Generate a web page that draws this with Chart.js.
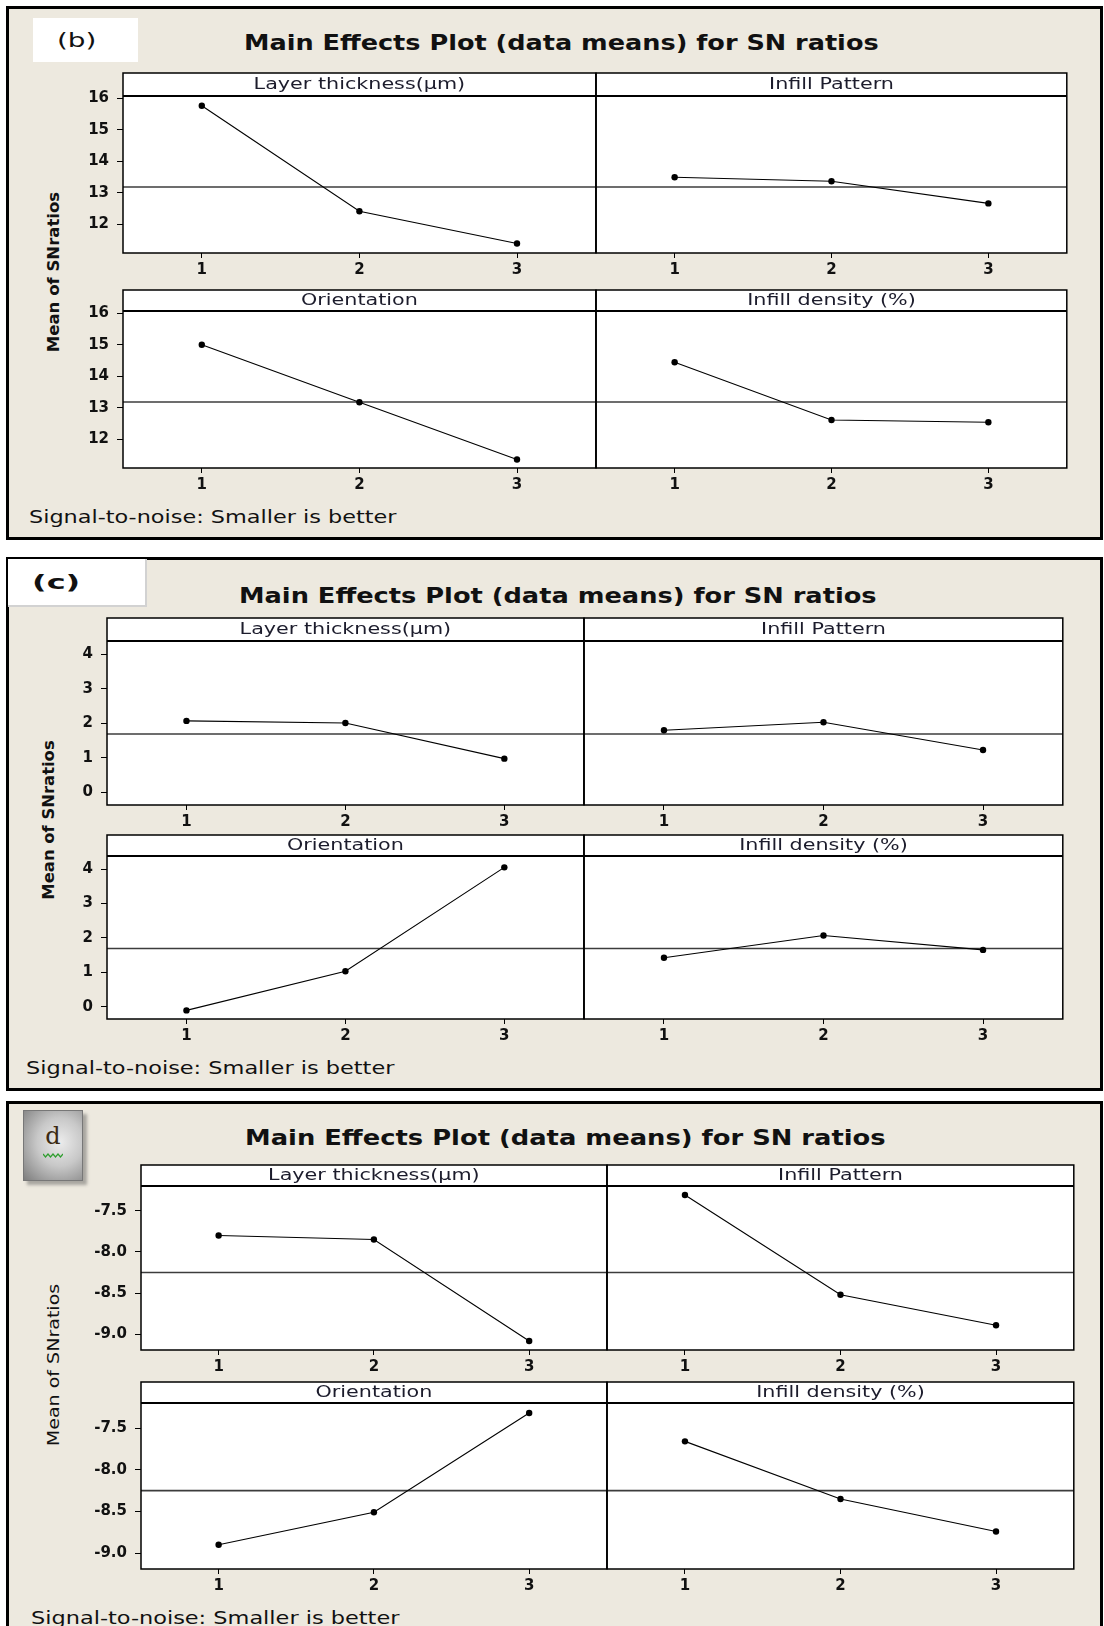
<!DOCTYPE html>
<html><head><meta charset="utf-8">
<script src="https://cdn.jsdelivr.net/npm/chart.js@4.4.1/dist/chart.umd.min.js"></script>
<style>
html,body{margin:0;padding:0;background:#fff;}
body{width:1104px;height:1626px;position:relative;overflow:hidden;font-family:'DejaVu Sans',sans-serif;}
.panel{position:absolute;background:#EDE9DF;border:3px solid #000;box-sizing:border-box;}
canvas{position:absolute;}
.txt{position:absolute;white-space:nowrap;line-height:1;color:#111;}
</style></head><body>
<script>
// ---------------- DATA ----------------
const factorNames = ['Layer thickness(µm)', 'Infill Pattern', 'Orientation', 'Infill density (%)'];
const levels = [1, 2, 3];
const xTickLabels = ['1', '2', '3'];

// (b)
const bLayerThickness = [15.76, 12.42, 11.40];
const bInfillPattern  = [13.50, 13.37, 12.67];
const bOrientation    = [15.00, 13.18, 11.37];
const bInfillDensity  = [14.45, 12.62, 12.55];
const bGrandMean = 13.19;
const bYTicks = [12, 13, 14, 15, 16];
const bYTickLabels = ['12', '13', '14', '15', '16'];

// (c)
const cLayerThickness = [2.07, 2.01, 0.98];
const cInfillPattern  = [1.80, 2.03, 1.23];
const cOrientation    = [-0.11, 1.03, 4.05];
const cInfillDensity  = [1.42, 2.07, 1.65];
const cGrandMean = 1.69;
const cYTicks = [0, 1, 2, 3, 4];
const cYTickLabels = ['0', '1', '2', '3', '4'];

// (d)
const dLayerThickness = [-7.80, -7.85, -9.08];
const dInfillPattern  = [-7.31, -8.52, -8.89];
const dOrientation    = [-8.90, -8.51, -7.32];
const dInfillDensity  = [-7.66, -8.35, -8.74];
const dGrandMean = -8.25;
const dYTicks = [-9.0, -8.5, -8.0, -7.5];
const dYTickLabels = ['-9.0', '-8.5', '-8.0', '-7.5'];

const panelTitle = 'Main Effects Plot (data means) for SN ratios';
const footerText = 'Signal-to-noise: Smaller is better';
const yAxisTitle = 'Mean of SNratios';

// ---------------- LAYOUT ----------------
const PANELS = [
  {series:[bLayerThickness,bInfillPattern,bOrientation,bInfillDensity], mean:bGrandMean, yTicks:bYTicks, yLabels:bYTickLabels,
   box:{l:6,t:6,w:1097,h:534}, L:123, M:596, R:1067, rows:[[73,96,253],[290,311,468]], yMin:11.1, yMax:16.07},
  {series:[cLayerThickness,cInfillPattern,cOrientation,cInfillDensity], mean:cGrandMean, yTicks:cYTicks, yLabels:cYTickLabels,
   box:{l:6,t:557,w:1097,h:534}, L:107, M:584, R:1063, rows:[[618,641,805],[835,856,1019]], yMin:-0.36, yMax:4.38},
  {series:[dLayerThickness,dInfillPattern,dOrientation,dInfillDensity], mean:dGrandMean, yTicks:dYTicks, yLabels:dYTickLabels,
   box:{l:6,t:1101,w:1097,h:600}, L:141, M:607, R:1074, rows:[[1165,1186,1350],[1382,1403,1569]], yMin:-9.19, yMax:-7.2},
];

const FONT = "'DejaVu Sans', sans-serif";

// panel backgrounds
PANELS.forEach(p => {
  const d = document.createElement('div');
  d.className = 'panel';
  Object.assign(d.style, {left:p.box.l+'px', top:p.box.t+'px', width:p.box.w+'px', height:p.box.h+'px'});
  document.body.appendChild(d);
});

// label boxes
function addBox(style) {
  const d = document.createElement('div');
  d.style.position = 'absolute';
  Object.assign(d.style, style);
  document.body.appendChild(d);
  return d;
}
addBox({left:'33px', top:'18px', width:'105px', height:'44px', background:'#fff'});
addBox({left:'8px', top:'559px', width:'137px', height:'46px', background:'#fff', borderRight:'2px solid #d2d2d2', borderBottom:'2px solid #d2d2d2'});
const dBox = addBox({left:'23px', top:'1110px', width:'58px', height:'69px',
  background:'radial-gradient(ellipse at 62% 45%, #ececec 0%, #c8c8c8 45%, #7d7d7d 100%)',
  border:'1px solid #777', boxShadow:'4px 4px 3px #a8a6a0'});
dBox.innerHTML = '<div style="position:absolute;left:0;top:13px;width:58px;text-align:center;font:24px \'DejaVu Serif\',\'Liberation Serif\',serif;color:#3b2a12;line-height:24px">d</div>' +
  '<svg style="position:absolute;left:19px;top:42px" width="20" height="6"><polyline points="0,1 2.5,4 5,1 7.5,4 10,1 12.5,4 15,1 17.5,4 20,1" fill="none" stroke="#2f9e2f" stroke-width="1.2"/></svg>';

// text helper
function addText(s, o) {
  const sp = document.createElement('span');
  sp.className = 'txt';
  sp.textContent = s;
  sp.style.font = (o.weight||'normal') + ' ' + o.size + 'px ' + FONT;
  sp.style.lineHeight = '1';
  document.body.appendChild(sp);
  const w = sp.offsetWidth, h = sp.offsetHeight;
  if (o.rotate) {
    sp.style.left = (o.cx - w/2) + 'px';
    sp.style.top = (o.cy - h/2) + 'px';
    sp.style.transformOrigin = '50% 50%';
    sp.style.transform = 'rotate(-90deg) scaleX(' + (o.len / w) + ')';
  } else {
    sp.style.left = o.x0 + 'px';
    sp.style.top = (o.cy - h/2) + 'px';
    sp.style.transformOrigin = '0 50%';
    sp.style.transform = 'scaleX(' + ((o.x1 - o.x0) / w) + ')';
  }
}
addText('(b)', {x0:57, x1:96, cy:40, size:20});
addText(panelTitle, {x0:244, x1:879, cy:43, size:21, weight:'bold'});
addText(footerText, {x0:29, x1:396, cy:517, size:17});
addText(yAxisTitle, {rotate:true, cx:53, cy:272, len:160, size:16, weight:'bold'});

addText('(c)', {x0:32, x1:80, cy:582, size:20, weight:'bold'});
addText(panelTitle, {x0:239, x1:877, cy:596, size:21, weight:'bold'});
addText(footerText, {x0:26, x1:394, cy:1068, size:17});
addText(yAxisTitle, {rotate:true, cx:48, cy:820, len:159, size:16, weight:'bold'});

addText(panelTitle, {x0:245, x1:886, cy:1138, size:21, weight:'bold'});
addText(footerText, {x0:31, x1:399, cy:1618, size:17});
addText(yAxisTitle, {rotate:true, cx:54, cy:1365, len:163, size:16});

// ---------------- CHART PLUGIN ----------------
const stripPlugin = {
  id: 'strip',
  beforeDraw(chart, args, opts) {
    const {ctx, chartArea:a} = chart;
    const hTop = a.top - opts.headerH;
    ctx.save();
    ctx.fillStyle = '#fff';
    ctx.fillRect(a.left, hTop, a.right - a.left, a.bottom - hTop);
    ctx.restore();
  },
  afterDraw(chart, args, opts) {
    const {ctx, chartArea:a} = chart;
    const hTop = a.top - opts.headerH;
    ctx.save();
    ctx.strokeStyle = '#000';
    ctx.lineWidth = 1.5;
    ctx.strokeRect(a.left, hTop, a.right - a.left, a.bottom - hTop);
    ctx.lineWidth = 2;
    ctx.beginPath(); ctx.moveTo(a.left, a.top); ctx.lineTo(a.right, a.top); ctx.stroke();
    ctx.font = '15px ' + FONT;
    ctx.fillStyle = '#1c1c2c';
    ctx.textAlign = 'center';
    ctx.textBaseline = 'middle';
    ctx.translate((a.left + a.right) / 2, hTop + opts.headerH / 2 + 1);
    ctx.scale(1.38, 1);
    ctx.fillText(opts.title, 0, 0);
    ctx.restore();
  }
};

const YW = 80, XH = 34, PAD = 3;

function buildSubplot(p, row, col, idx) {
  const [ht, pt, pb] = p.rows[row];
  const x0 = col === 0 ? p.L : p.M;
  const x1 = col === 0 ? p.M : p.R;
  const cTop = ht - PAD;
  const cLeft = col === 0 ? x0 - YW : x0 - PAD;
  const W = (x1 - cLeft) + PAD;
  const H = (pb - cTop) + XH;
  const cv = document.createElement('canvas');
  cv.width = W; cv.height = H;
  cv.style.left = cLeft + 'px'; cv.style.top = cTop + 'px';
  cv.style.width = W + 'px'; cv.style.height = H + 'px';
  document.body.appendChild(cv);

  const vals = p.series[idx];
  const tickFont = {family: FONT, size: 15, weight: 'bold'};
  new Chart(cv.getContext('2d'), {
    type: 'scatter',
    data: {
      datasets: [
        {data: levels.map((lv, i) => ({x: lv, y: vals[i]})), showLine: true, borderColor: '#000', borderWidth: 1.1,
         pointRadius: 3.2, pointHoverRadius: 3.2, pointBackgroundColor: '#000', pointBorderColor: '#000', pointBorderWidth: 0, order: 0, clip: false},
        {data: [{x: 0.5, y: p.mean}, {x: 3.5, y: p.mean}], showLine: true, borderColor: '#3c3c3c', borderWidth: 1.6,
         pointRadius: 0, order: 1}
      ]
    },
    options: {
      responsive: false, animation: false, devicePixelRatio: 1,
      layout: {padding: {top: pt - cTop, left: col === 0 ? 0 : PAD, right: PAD, bottom: 0}},
      plugins: {legend: {display: false}, tooltip: {enabled: false}, strip: {title: factorNames[idx], headerH: pt - ht}},
      scales: {
        x: {
          type: 'linear', min: 0.5, max: 3.5,
          afterBuildTicks: s => { s.ticks = levels.map(v => ({value: v})); },
          afterFit: s => { s.height = XH; },
          ticks: {font: tickFont, color: '#111', padding: 3, maxRotation: 0, autoSkip: false,
                  callback: (v) => xTickLabels[levels.indexOf(v)]},
          grid: {drawOnChartArea: false, drawTicks: true, tickLength: 5, color: '#000', lineWidth: 1},
          border: {display: false}
        },
        y: {
          type: 'linear', min: p.yMin, max: p.yMax, display: col === 0,
          afterBuildTicks: s => { s.ticks = p.yTicks.map(v => ({value: v})); },
          afterFit: s => { s.width = col === 0 ? YW : 0; },
          ticks: {font: tickFont, color: '#111', padding: 8, autoSkip: false,
                  callback: (v) => p.yLabels[p.yTicks.indexOf(v)]},
          grid: {drawOnChartArea: false, drawTicks: true, tickLength: 6, color: '#000', lineWidth: 1},
          border: {display: false}
        }
      }
    },
    plugins: [stripPlugin]
  });
}

PANELS.forEach(p => {
  buildSubplot(p, 0, 0, 0);
  buildSubplot(p, 0, 1, 1);
  buildSubplot(p, 1, 0, 2);
  buildSubplot(p, 1, 1, 3);
});
</script>
</body></html>
